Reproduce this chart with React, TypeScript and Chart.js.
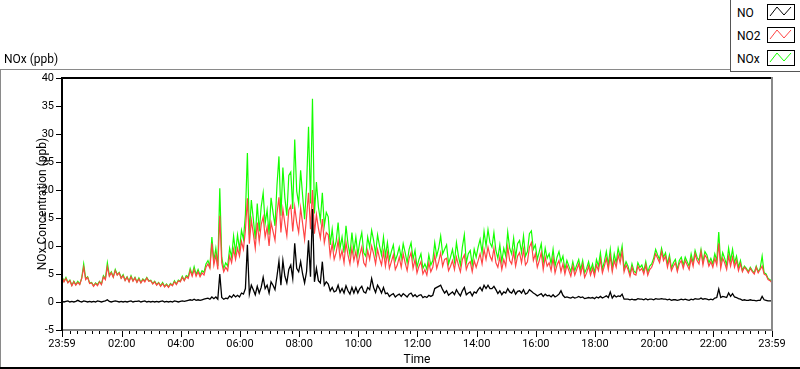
import React, { useEffect, useRef } from "react";
import { Chart, registerables } from "chart.js";

Chart.register(...registerables);

// sampling: one value every 4 minutes starting at 23:59
const SAMPLE_STEP_MIN = 4;

const NO2_PPB = [
  4.4,3.6,4.2,3.4,3.8,2.9,3.6,3.0,3.5,3.1,4.2,6.2,4.0,4.4,3.3,
  3.4,2.8,3.3,2.9,3.6,3.1,4.5,4.0,6.3,4.6,5.2,4.4,5.6,4.8,5.2,
  4.2,4.7,3.8,4.4,3.6,4.5,3.7,4.3,3.5,4.1,3.4,4.0,3.6,4.3,3.7,
  3.8,3.2,3.6,3.0,3.4,2.8,3.3,2.7,3.1,2.6,3.2,2.9,3.6,3.1,3.8,
  3.6,4.4,3.8,4.5,4.2,5.6,4.6,5.8,4.6,5.4,4.5,5.2,4.8,6.2,6.8,
  6.0,10.5,6.6,8.4,5.8,15.4,7.0,5.4,6.2,5.6,8.2,7.0,9.4,7.6,9.6,
  8.2,10.8,9.4,12.8,18.5,10.4,14.6,12.2,9.6,14.2,10.8,13.8,15.2,11.6,13.4,
  10.0,14.2,12.6,11.0,15.8,18.7,12.4,16.6,14.0,11.8,16.4,17.2,12.6,17.0,14.2,
  12.4,16.8,14.0,11.2,15.2,19.5,13.0,20.0,12.2,15.6,13.2,11.4,14.8,10.6,12.4,
  12.0,8.2,10.4,7.6,8.8,11.0,7.8,9.2,7.0,10.6,8.4,6.8,9.6,7.4,9.0,
  6.6,8.4,9.8,7.0,6.4,9.2,7.6,10.0,8.6,6.8,9.4,7.8,6.6,9.0,6.4,
  8.8,6.0,7.2,8.4,5.8,6.6,8.0,6.2,8.6,7.0,5.6,7.8,8.8,6.0,7.6,
  5.2,6.4,7.2,5.0,5.8,4.8,7.0,5.4,6.2,8.4,6.0,7.2,8.8,6.4,7.6,
  7.8,5.6,6.4,7.4,5.8,8.0,6.6,5.4,7.6,8.4,5.8,6.8,7.2,5.4,7.4,
  6.2,7.4,8.6,6.8,9.4,7.6,9.8,8.2,7.4,9.6,7.0,6.2,8.0,5.8,7.6,
  6.4,9.8,7.4,6.8,9.0,6.4,8.2,8.8,7.0,9.4,6.6,7.2,9.8,10.6,7.4,
  8.6,6.2,7.4,8.8,5.8,8.0,6.4,7.0,5.6,7.8,5.2,6.6,7.4,5.4,6.8,
  5.0,6.6,5.6,4.6,6.4,4.8,5.8,6.8,5.0,6.6,4.4,5.2,6.4,4.8,6.0,
  4.6,6.6,5.6,7.6,5.2,6.4,7.8,5.8,8.2,5.4,7.4,6.2,8.4,7.0,9.0,
  5.4,6.6,5.8,4.6,6.2,5.0,4.8,6.4,5.6,6.0,5.0,6.6,4.8,5.8,6.2,
  7.2,8.6,7.8,7.0,9.0,7.4,8.2,6.2,7.8,5.6,6.4,7.0,5.4,6.8,7.4,
  6.0,7.4,6.6,5.8,7.8,6.4,8.6,7.4,6.8,9.0,6.6,8.4,7.8,6.4,7.2,
  6.2,7.8,6.6,10.5,6.0,7.8,7.0,5.8,8.2,6.4,8.0,6.2,7.4,5.6,6.8,
  5.4,6.2,5.8,5.2,6.0,5.4,5.0,6.2,5.2,5.8,6.4,5.0,4.8,4.0,3.8,3.4,
];

const NOX_PPB = [
  4.5,3.7,4.4,3.5,3.9,3.0,3.7,3.1,3.7,3.2,4.3,6.8,4.2,4.5,3.4,
  3.5,2.9,3.4,3.1,3.7,3.2,4.7,4.2,7.0,4.8,5.4,4.5,5.8,4.9,5.3,
  4.3,4.9,3.9,4.5,3.7,4.7,3.8,4.4,3.6,4.3,3.5,4.1,3.8,4.4,3.8,
  3.9,3.3,3.7,3.1,3.5,2.9,3.5,2.8,3.2,2.7,3.3,3.0,3.8,3.2,3.9,
  3.7,4.6,3.9,4.7,4.5,6.0,4.9,6.3,4.9,5.8,4.8,5.6,5.3,6.8,7.4,
  6.4,11.6,7.4,9.6,6.4,20.3,8.0,6.0,7.0,6.4,9.6,8.0,11.8,8.8,12.0,
  9.4,12.8,11.2,15.6,26.6,12.0,18.2,14.8,11.2,17.6,12.6,17.0,19.5,14.0,16.4,
  12.0,18.6,16.0,13.6,20.8,26.0,15.4,24.0,18.6,15.4,22.6,23.2,16.6,29.0,19.8,
  17.6,23.5,19.0,14.8,20.6,31.3,17.6,36.3,15.8,21.4,17.0,14.6,19.5,13.6,16.0,
  15.2,10.2,13.0,9.4,10.8,14.2,9.6,11.6,8.8,13.6,10.4,8.4,12.4,9.0,11.6,
  8.4,10.8,12.4,8.8,8.2,11.6,9.8,12.8,11.0,8.6,12.0,10.0,8.4,11.6,8.2,
  10.6,7.6,9.0,10.2,7.4,8.4,9.8,7.8,10.4,8.8,7.0,9.4,10.6,7.6,9.2,
  6.2,7.6,8.6,6.0,6.8,5.8,8.4,6.6,7.4,10.6,8.2,9.6,11.8,8.6,9.4,
  10.2,6.8,8.0,9.4,7.2,10.6,8.2,6.6,9.8,12.0,7.0,8.6,9.2,6.6,9.4,
  8.0,9.8,11.2,8.8,12.6,10.0,12.9,10.6,9.8,12.4,9.2,7.8,10.2,7.2,9.6,
  8.2,12.5,9.6,8.6,11.4,8.0,10.4,11.0,8.8,11.8,8.2,9.0,12.2,12.7,9.4,
  10.2,7.6,9.0,10.4,7.0,9.6,7.8,8.6,6.8,9.4,6.4,8.0,9.0,7.2,8.2,
  5.8,7.4,6.4,5.4,7.2,5.6,6.6,7.6,5.8,7.4,5.2,6.0,7.2,5.6,6.8,
  5.2,7.6,6.4,8.8,5.8,7.2,9.0,6.6,9.4,6.0,8.6,7.0,9.6,8.0,10.0,
  6.0,7.2,6.4,5.0,6.8,5.5,5.2,7.0,6.2,6.6,5.5,7.2,5.3,6.4,6.8,
  7.8,9.4,8.4,7.6,9.6,8.0,8.8,6.8,8.4,6.0,7.0,7.6,5.8,7.4,8.0,
  6.6,8.0,7.2,6.4,8.6,7.0,9.2,8.0,7.4,9.4,7.2,9.0,8.4,7.0,7.8,
  6.8,8.6,7.4,12.5,6.8,8.8,7.8,6.6,9.6,7.4,9.4,7.0,8.2,6.2,7.4,
  5.6,6.4,6.0,5.4,6.2,5.6,5.2,6.4,5.4,6.0,8.2,5.2,5.0,4.2,4.0,3.6,
];

const NO_PPB = [
  0.1,0.0,0.1,0.2,0.0,0.1,0.0,0.1,0.3,0.1,0.0,0.2,0.1,0.0,0.1,
  0.0,0.1,0.0,0.2,0.1,0.0,0.1,0.2,0.4,0.1,0.0,0.1,0.2,0.1,0.0,
  0.1,0.0,0.1,0.0,0.1,0.2,0.0,0.1,0.1,0.2,0.0,0.1,0.2,0.0,0.1,
  0.0,0.1,0.0,0.1,0.0,0.1,0.2,0.0,0.1,0.0,0.1,0.0,0.2,0.1,0.0,
  0.1,0.2,0.1,0.2,0.3,0.4,0.3,0.5,0.3,0.4,0.3,0.4,0.5,0.6,0.7,
  0.5,0.9,0.6,0.9,0.5,5.0,0.8,0.5,0.7,0.6,1.1,0.8,1.3,0.9,1.2,
  0.9,1.6,1.4,2.4,10.2,1.4,3.0,2.2,1.3,2.8,1.6,2.6,4.4,2.4,3.0,
  1.6,3.6,3.0,2.2,4.6,7.3,3.0,7.4,4.6,3.4,5.8,6.6,4.2,10.5,6.0,
  5.4,7.2,5.0,3.4,5.4,11.0,4.5,16.6,3.6,6.0,3.8,3.4,7.2,3.0,3.6,
  3.2,2.0,2.6,1.8,2.0,3.0,1.7,2.4,1.6,2.9,2.0,1.4,2.6,1.6,2.6,
  1.6,2.4,2.8,1.8,1.6,2.6,2.2,4.2,2.6,1.7,3.0,2.4,1.6,2.6,1.5,
  1.6,1.0,1.3,1.5,0.9,1.2,1.4,1.0,1.5,1.2,0.9,1.4,1.6,1.0,1.3,
  0.9,1.2,1.3,0.8,1.0,0.8,1.2,1.0,1.2,2.4,2.6,2.8,3.0,2.2,1.6,
  2.0,1.2,1.5,1.8,1.3,2.2,1.6,1.1,2.0,2.6,1.3,1.6,1.8,1.1,1.8,
  1.6,2.2,2.6,2.0,3.0,2.4,3.0,2.4,2.4,2.8,2.2,1.5,2.0,1.3,1.8,
  1.6,2.4,1.8,1.6,2.2,1.4,1.9,2.0,1.6,2.2,1.4,1.6,2.2,1.9,1.6,
  1.4,1.1,1.3,1.5,1.0,1.4,1.1,1.2,0.9,1.3,0.9,1.1,1.4,2.0,1.2,
  0.8,0.9,0.8,0.7,0.9,0.7,0.8,1.0,0.8,0.9,0.6,0.7,0.8,0.7,0.8,
  0.6,0.9,0.7,1.0,0.7,0.9,1.1,0.8,1.8,0.7,1.2,0.9,1.1,1.0,1.4,
  0.5,0.5,0.5,0.4,0.5,0.4,0.4,0.6,0.5,0.5,0.4,0.6,0.4,0.5,0.5,
  0.4,0.6,0.5,0.5,0.6,0.5,0.5,0.4,0.5,0.3,0.4,0.4,0.3,0.4,0.5,
  0.4,0.5,0.4,0.3,0.5,0.4,0.6,0.5,0.5,0.7,0.5,0.6,0.5,0.4,0.5,
  0.4,0.7,0.8,2.3,0.8,1.0,0.9,0.8,1.6,1.0,1.5,0.9,0.8,0.6,0.5,
  0.3,0.4,0.3,0.3,0.4,0.3,0.3,0.2,0.3,0.3,1.0,0.4,0.3,0.2,0.2,0.2,
];

// x axis: minutes after 23:59
const X_TICK_VALUES = [0, 121, 241, 361, 481, 601, 721, 841, 961, 1081, 1201, 1321, 1440];
const X_TICK_LABELS = ["23:59", "02:00", "04:00", "06:00", "08:00", "10:00", "12:00", "14:00", "16:00", "18:00", "20:00", "22:00", "23:59"];
const X_MINOR_STEP_MIN = 15;
const Y_MIN = -5;
const Y_MAX = 40;
const Y_STEP = 5;

const SERIES_NAMES = ["NO", "NO2", "NOx"];
const SERIES_COLORS = ["#000000", "#ff4444", "#14ff00"];

const FONT = "Roboto, 'Noto Sans', sans-serif";

const framePlugin = {
  id: "lvFrame",
  afterDraw(chart: any) {
    const { ctx, chartArea } = chart;
    const { left, right, top, bottom } = chartArea;
    const xs = chart.scales.x;
    const ys = chart.scales.y;
    ctx.save();
    ctx.fillStyle = "#000";
    for (let m = 1; m < 1440; m += X_MINOR_STEP_MIN) {
      const px = Math.round(xs.getPixelForValue(m));
      ctx.fillRect(px, bottom + 1, 1, 3);
    }
    for (const v of X_TICK_VALUES) {
      const px = Math.round(xs.getPixelForValue(v));
      ctx.fillRect(px, bottom + 1, 1, 6);
    }
    for (let v = Y_MIN; v <= Y_MAX; v += Y_STEP) {
      const py = Math.round(ys.getPixelForValue(v));
      ctx.fillRect(left - 6, py, 5, 1);
    }
    ctx.fillStyle = "#000";
    ctx.fillRect(left - 1, top - 1, right - left + 1, 2);
    ctx.fillRect(left - 1, top - 1, 2, bottom - top + 2);
    ctx.fillStyle = "#8a8a8a";
    ctx.fillRect(right - 1, top - 1, 2, bottom - top + 2);
    ctx.fillRect(left + 1, bottom - 1, right - left, 2);
    ctx.restore();
  },
};

function LegendIcon({ color }: { color: string }) {
  return (
    <svg width={28} height={16} style={{ display: "block" }}>
      <rect x={0.5} y={0.5} width={27} height={15} fill="#fff" stroke="#000" strokeWidth={1} />
      <polyline points="3,12 10,3 17,11 24,3" fill="none" stroke={color} strokeWidth={1} />
    </svg>
  );
}

export default function App() {
  const canvasRef = useRef<HTMLCanvasElement | null>(null);

  useEffect(() => {
    const canvas = canvasRef.current;
    if (!canvas) return;
    const series = [NO_PPB, NO2_PPB, NOX_PPB];
    const chart = new Chart(canvas, {
      type: "line",
      data: {
        datasets: series.map((vals, k) => ({
          label: SERIES_NAMES[k],
          data: vals.map((v, i) => ({ x: i * SAMPLE_STEP_MIN, y: v })),
          borderColor: SERIES_COLORS[k],
          backgroundColor: SERIES_COLORS[k],
          borderWidth: k === 0 ? 1.3 : 1.2,
          pointRadius: 0,
          tension: 0,
          fill: false,
        })),
      },
      options: {
        animation: false,
        responsive: false,
        maintainAspectRatio: false,
        devicePixelRatio: 1,
        layout: { padding: { top: 78, right: 28, left: 0, bottom: 0 } },
        plugins: { legend: { display: false }, tooltip: { enabled: false }, title: { display: false } },
        scales: {
          x: {
            type: "linear",
            min: 0,
            max: 1440,
            afterBuildTicks: (s: any) => {
              s.ticks = X_TICK_VALUES.map((v) => ({ value: v }));
            },
            afterFit: (s: any) => {
              s.height = 39;
            },
            grid: { display: false, drawTicks: false },
            border: { display: false },
            ticks: {
              autoSkip: false,
              maxRotation: 0,
              minRotation: 0,
              padding: 8,
              color: "#000",
              font: { family: FONT, size: 11 },
              callback: (_v: any, i: number) => X_TICK_LABELS[i] ?? "",
            },
          },
          y: {
            type: "linear",
            min: Y_MIN,
            max: Y_MAX,
            afterFit: (s: any) => {
              s.width = 62;
            },
            grid: { display: false, drawTicks: false },
            border: { display: false },
            ticks: {
              stepSize: Y_STEP,
              padding: 8,
              color: "#000",
              font: { family: FONT, size: 11 },
            },
          },
        },
      },
      plugins: [framePlugin],
    } as any);
    return () => chart.destroy();
  }, []);

  const txt: React.CSSProperties = {
    position: "absolute",
    fontFamily: FONT,
    fontSize: 12,
    lineHeight: "14px",
    color: "#000",
    whiteSpace: "nowrap",
  };

  return (
    <div style={{ position: "fixed", left: 0, top: 0, width: 800, height: 369, background: "#fff", overflow: "hidden" }}>
      <canvas ref={canvasRef} width={800} height={369} style={{ position: "absolute", left: 0, top: 0, width: 800, height: 369 }} />
      <div style={{ position: "absolute", left: 0, top: 69, width: 730, height: 1, background: "#8a8a8a" }} />
      <div style={{ position: "absolute", left: 0, top: 69, width: 1, height: 300, background: "#8a8a8a" }} />
      <div style={{ position: "absolute", left: 0, top: 367, width: 800, height: 2, background: "#000" }} />
      <div style={{ ...txt, left: 4, top: 52 }}>NOx (ppb)</div>
      <div style={{ ...txt, left: 417, top: 352, transform: "translateX(-50%)" }}>Time</div>
      <div style={{ ...txt, left: 42, top: 204, transform: "translate(-50%, -50%) rotate(-90deg)" }}>NOx Concentration (ppb)</div>
      <div style={{ position: "absolute", left: 730, top: 0, width: 70, height: 71, borderLeft: "1px solid #555", borderBottom: "1px solid #555", background: "#fff" }}>
        {SERIES_NAMES.map((name, k) => (
          <React.Fragment key={name}>
            <div style={{ ...txt, left: 6, top: 6 + k * 23 }}>{name}</div>
            <div style={{ position: "absolute", left: 36, top: 4 + k * 23 }}>
              <LegendIcon color={SERIES_COLORS[k]} />
            </div>
          </React.Fragment>
        ))}
      </div>
    </div>
  );
}
